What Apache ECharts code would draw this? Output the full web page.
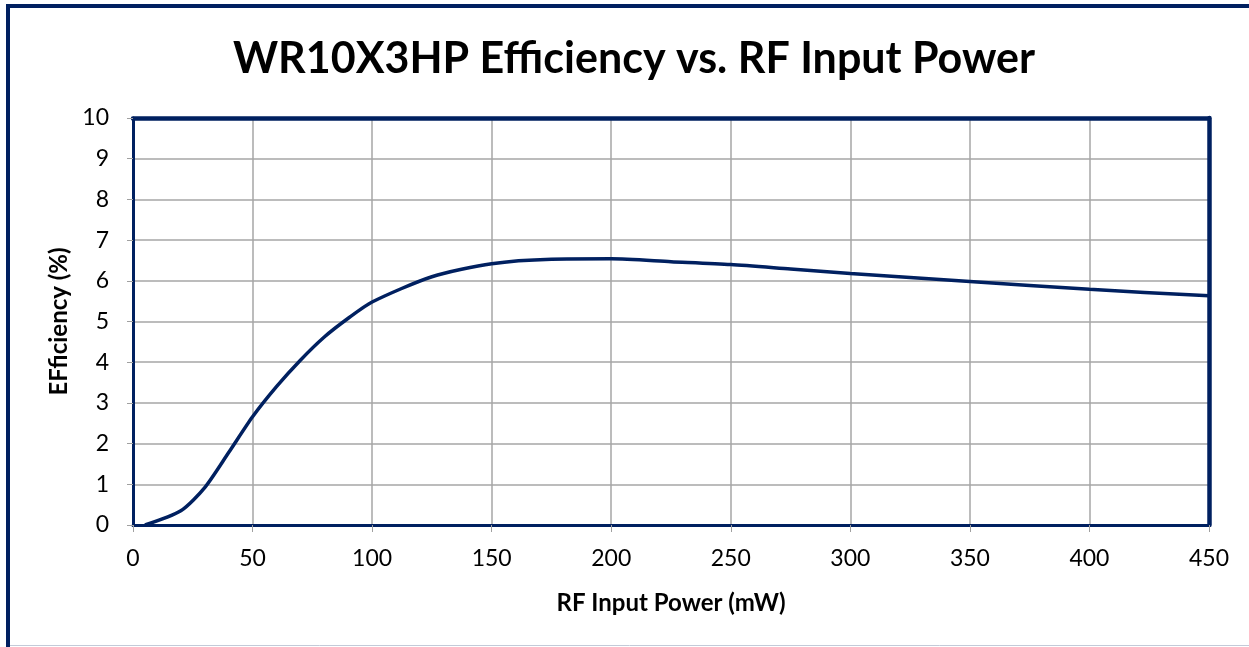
<!DOCTYPE html>
<html>
<head>
<meta charset="utf-8">
<script src="https://cdn.jsdelivr.net/npm/echarts@6/dist/echarts.min.js"></script>
<style>html,body{margin:0;padding:0;background:#fff;}#c{width:1249px;height:647px;}</style>
</head>
<body>
<div id="c"></div>
<script>
var titleText = 'WR10X3HP Efficiency vs. RF Input Power';
var xName = 'RF Input Power (mW)';
var yName = 'EFficiency (%)';
var inputPower = [5, 20, 30, 40, 50, 60, 70, 80, 90, 100, 125, 150, 175, 200, 225, 250, 275, 300, 350, 400, 450];
var efficiency = [0, 0.35, 0.92, 1.78, 2.66, 3.4, 4.05, 4.62, 5.08, 5.48, 6.1, 6.42, 6.53, 6.54, 6.47, 6.4, 6.29, 6.18, 5.98, 5.79, 5.63];
var xTicks = [0, 450, 50];
var yTicks = [0, 10, 1];

var navy = '#002060';
var pts = inputPower.map(function (x, i) { return [x, efficiency[i]]; });
var chart = echarts.init(document.getElementById('c'), null, {renderer: 'canvas'});
var frameAxis = function (pos, lw) {
  return {
    type: 'value', position: pos, min: 0, max: 1,
    axisLine: {show: true, onZero: false, lineStyle: {color: navy, width: lw}},
    axisTick: {show: false}, axisLabel: {show: false}, splitLine: {show: false}
  };
};
var xTop = frameAxis('top', 4.5);
var yRight = frameAxis('right', 4.5);
chart.setOption({
  animation: false,
  backgroundColor: '#fff',
  title: {
    text: titleText,
    left: 629,
    textAlign: 'center',
    top: 33,
    textStyle: {fontFamily: 'Lato', fontWeight: 'bold', fontSize: 43, color: '#000'}
  },
  grid: {
    left: 133, right: 40, top: 118, bottom: 122
  },
  xAxis: [{
    type: 'value', min: xTicks[0], max: xTicks[1], interval: xTicks[2],
    name: xName, nameLocation: 'middle', nameGap: 66,
    nameTextStyle: {fontFamily: 'Lato', fontWeight: 'bold', fontSize: 24, color: '#000'},
    axisLine: {show: true, onZero: false, lineStyle: {color: navy, width: 3}},
    axisTick: {show: true, length: 7, lineStyle: {color: '#a0a0a0'}},
    axisLabel: {margin: 22, fontFamily: 'Lato', fontSize: 23, color: '#000'},
    splitLine: {show: true, lineStyle: {color: '#a6a6a6', width: 1.5}}
  }, xTop],
  yAxis: [{
    type: 'value', min: yTicks[0], max: yTicks[1], interval: yTicks[2],
    name: yName, nameLocation: 'middle', nameGap: 62,
    nameTextStyle: {fontFamily: 'Lato', fontWeight: 'bold', fontSize: 24, color: '#000'},
    axisLine: {show: true, lineStyle: {color: navy, width: 3}},
    axisTick: {show: true, length: 6, lineStyle: {color: '#a0a0a0'}},
    axisLabel: {margin: 24, fontFamily: 'Lato', fontSize: 23, color: '#000'},
    splitLine: {show: true, lineStyle: {color: '#a6a6a6', width: 1.5}}
  }, yRight],
  graphic: [
    {type: 'line', shape: {x1: 8, y1: 6, x2: 1249, y2: 6}, style: {stroke: navy, lineWidth: 4}},
    {type: 'line', shape: {x1: 8, y1: 4, x2: 8, y2: 647}, style: {stroke: navy, lineWidth: 4}},
    {type: 'line', shape: {x1: 10, y1: 645.5, x2: 1249, y2: 645.5}, style: {stroke: '#c3cad8', lineWidth: 1}}
  ],
  series: [{
    type: 'line',
    data: pts,
    smooth: 0.25,
    showSymbol: false,
    lineStyle: {color: navy, width: 3.5},
    z: 5
  }]
});
</script>
</body>
</html>
